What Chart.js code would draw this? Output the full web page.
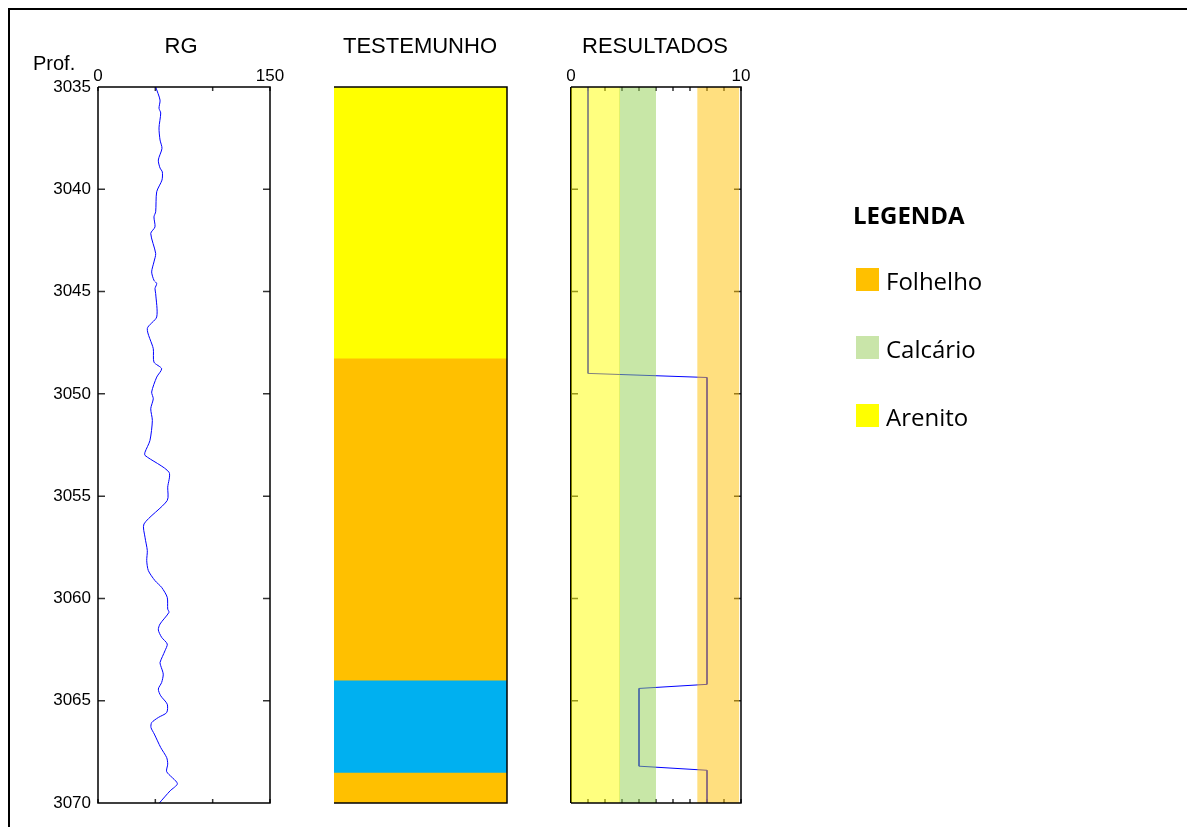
<!DOCTYPE html>
<html>
<head>
    <title>Perfil RG / Testemunho / Resultados</title>
    <script src="https://cdn.jsdelivr.net/npm/chart.js"></script>
    <style>
        body {
            margin: 0;
            width: 1187px;
            height: 827px;
            overflow: hidden;
            background: #fff;
            position: relative;
            font-family: "Liberation Sans", Arial, sans-serif;
        }
        .frame {
            position: absolute;
            left: 8px;
            top: 8px;
            width: 1200px;
            height: 900px;
            border: 2px solid #000;
        }
        canvas {
            position: absolute;
            left: 0;
            top: 0;
        }
        .title {
            position: absolute;
            top: 35px;
            font-size: 22px;
            line-height: 22px;
            text-align: center;
            color: #000;
        }
        .leg {
            position: absolute;
            font-family: "Open Sans", Lato, sans-serif;
            font-size: 24px;
            line-height: 24px;
            color: #000;
        }
        .sq {
            position: absolute;
            left: 856px;
            width: 23px;
            height: 23px;
        }
    </style>
</head>
<body>
    <div class="frame"></div>
    <canvas id="rg" width="1187" height="827"></canvas>
    <canvas id="core" width="1187" height="827"></canvas>
    <canvas id="res" width="1187" height="827"></canvas>

    <div class="title" style="left:131px;width:100px;">RG</div>
    <div class="title" style="left:320px;width:200px;">TESTEMUNHO</div>
    <div class="title" style="left:555px;width:200px;">RESULTADOS</div>
    <div class="title" style="left:33px;top:53px;font-size:20px;line-height:20px;text-align:left;">Prof.</div>

    <div class="leg" style="left:853px;top:203px;font-size:24px;line-height:23px;font-weight:bold;">LEGENDA</div>
    <div class="sq" style="top:268px;background:#FFC000;"></div>
    <div class="leg" style="left:886px;top:269px;">Folhelho</div>
    <div class="sq" style="top:336px;background:#C9E5A9;"></div>
    <div class="leg" style="left:886px;top:337px;">Calcário</div>
    <div class="sq" style="top:404px;background:#FFFF00;"></div>
    <div class="leg" style="left:886px;top:405px;">Arenito</div>

    <script>
        // profundidade (m)
        const depthMin = 3035;
        const depthMax = 3070;
        const depthTicks = [3035, 3040, 3045, 3050, 3055, 3060, 3065, 3070];

        // perfil de raios gama
        const rgDepth = [3035.0, 3035.64, 3036.04, 3036.27, 3037.0, 3037.59, 3038.0, 3038.57, 3038.96, 3039.15,
            3039.55, 3040.12, 3041.1, 3041.35, 3041.84, 3042.16, 3043.14, 3043.55, 3044.04, 3044.45,
            3044.61, 3044.85, 3045.1, 3046.24, 3046.81, 3047.79, 3048.45, 3048.77, 3049.18, 3049.91,
            3050.24, 3050.73, 3051.3, 3052.28, 3052.85, 3053.01, 3053.83, 3054.56, 3055.21, 3056.36,
            3057.01, 3057.66, 3058.15, 3058.64, 3059.13, 3059.46, 3059.95, 3060.52, 3060.68, 3061.25,
            3061.54, 3061.9, 3062.23, 3062.56, 3063.13, 3063.29, 3063.7, 3064.11, 3064.43, 3064.76,
            3065.17, 3065.58, 3065.82, 3066.07, 3066.31, 3066.63, 3067.29, 3067.78, 3068.1, 3068.47,
            3069.05, 3069.41, 3070.0];
        const rgValue = [50.3, 54.1, 53.2, 54.7, 53.2, 54.1, 55.8, 52.6, 54.1, 56.1,
            55.8, 51.2, 50.3, 48.8, 49.7, 46.0, 50.3, 48.8, 46.8, 48.8,
            51.2, 49.7, 50.3, 51.2, 43.0, 48.2, 48.8, 55.5, 51.2, 46.8,
            48.2, 46.0, 47.4, 45.3, 41.0, 41.0, 61.9, 60.8, 60.4, 40.1,
            41.0, 43.0, 42.5, 43.9, 49.7, 55.5, 60.4, 60.8, 61.9, 54.1,
            52.6, 55.5, 60.4, 58.4, 54.1, 54.7, 56.9, 55.5, 52.6, 54.7,
            60.4, 59.9, 52.6, 46.8, 46.2, 49.1, 54.7, 59.9, 60.8, 59.9,
            69.2, 62.8, 53.5];
        const rgTicks = [0, 50, 100, 150];

        // testemunho: topo e base de cada camada
        const coreTop = [3035, 3048.25, 3064.0, 3068.5];
        const coreBase = [3048.25, 3064.0, 3068.5, 3070];

        // resultados
        const resDepth = [3035, 3049.0, 3049.2, 3064.2, 3064.4, 3068.2, 3068.4, 3070];
        const resValue = [1, 1, 8, 8, 4, 4, 8, 8];
        const resTicks = [0, 1, 2, 3, 4, 5, 6, 7, 8, 9, 10];
        const bandFrom = [-0.15, 2.85, 7.45];
        const bandTo = [2.85, 4.98, 9.87];

        const coreColors = ['#FFFF00', '#FFC000', '#00B0F0', '#FFC000'];
        const bandColors = ['rgba(255,255,0,0.5)', 'rgba(146,208,80,0.5)', 'rgba(255,192,0,0.5)'];

        Chart.defaults.font.family = '"Liberation Sans", Arial, sans-serif';
        Chart.defaults.color = '#000';

        // moldura e tracinhos internos
        const logFrame = {
            id: 'logFrame',
            beforeDatasetsDraw(chart, args, o) {
                const ctx = chart.ctx, a = chart.chartArea;
                const xs = chart.scales.x, ys = chart.scales.y;
                ctx.save();
                ctx.strokeStyle = '#333';
                ctx.lineWidth = 1.5;
                ctx.beginPath();
                (o.yTicks || []).forEach(v => {
                    const py = ys.getPixelForValue(v);
                    ctx.moveTo(a.left, py); ctx.lineTo(a.left + 7, py);
                    ctx.moveTo(a.right, py); ctx.lineTo(a.right - 7, py);
                });
                (o.xTicks || []).forEach(v => {
                    const px = xs.getPixelForValue(v);
                    ctx.moveTo(px, a.top); ctx.lineTo(px, a.top + 4);
                    ctx.moveTo(px, a.bottom); ctx.lineTo(px, a.bottom - 4);
                });
                ctx.stroke();
                if (o.leftUnder) {
                    ctx.strokeStyle = '#000';
                    ctx.lineWidth = 2;
                    ctx.beginPath();
                    ctx.moveTo(a.left, a.top); ctx.lineTo(a.left, a.bottom);
                    ctx.stroke();
                }
                ctx.restore();
            },
            afterDatasetsDraw(chart, args, o) {
                const ctx = chart.ctx, a = chart.chartArea;
                ctx.save();
                ctx.strokeStyle = '#000';
                ctx.lineWidth = 1.5;
                ctx.beginPath();
                ctx.moveTo(a.left, a.top); ctx.lineTo(a.right, a.top);
                ctx.lineTo(a.right, a.bottom); ctx.lineTo(a.left, a.bottom);
                if (!o.leftUnder && !o.noLeft) ctx.lineTo(a.left, a.top);
                ctx.stroke();
                ctx.restore();
            }
        };

        const depthAxis = {
            type: 'linear',
            reverse: true,
            min: depthMin,
            max: depthMax,
            offset: false,
            grid: { display: false, drawTicks: false },
            border: { display: false }
        };

        const topAxis = (max) => ({
            type: 'linear',
            position: 'top',
            min: 0,
            max: max,
            offset: false,
            grid: { display: false, drawTicks: false, offset: false },
            border: { display: false },
            afterFit: s => { s.height = 30; },
            afterBuildTicks: s => { s.ticks = [0, max].map(v => ({ value: v })); },
            ticks: { font: { size: 17 }, padding: 0, maxRotation: 0, callback: v => String(v) }
        });

        // RG
        new Chart(document.getElementById('rg'), {
            type: 'scatter',
            data: {
                datasets: [{
                    data: rgDepth.map((d, i) => ({ x: rgValue[i], y: d })),
                    showLine: true,
                    borderColor: '#0000FF',
                    borderWidth: 1,
                    tension: 0.25,
                    pointRadius: 0
                }]
            },
            options: {
                responsive: false,
                animation: false,
                devicePixelRatio: 1,
                layout: { padding: { left: 0, top: 57, right: 1187 - 270, bottom: 24 } },
                plugins: {
                    legend: { display: false },
                    tooltip: { enabled: false },
                    logFrame: { yTicks: depthTicks.slice(1, -1), xTicks: rgTicks }
                },
                scales: {
                    x: topAxis(150),
                    y: Object.assign({}, depthAxis, {
                        afterFit: s => { s.width = 98; },
                        afterBuildTicks: s => { s.ticks = depthTicks.map(v => ({ value: v })); },
                        ticks: { font: { size: 17 }, padding: 7, callback: v => String(v) }
                    })
                }
            },
            plugins: [logFrame]
        });

        // TESTEMUNHO
        new Chart(document.getElementById('core'), {
            type: 'bar',
            data: {
                labels: ['T'],
                datasets: coreTop.map((t, i) => ({
                    data: [[t, coreBase[i]]],
                    backgroundColor: coreColors[i],
                    grouped: false,
                    barPercentage: 1,
                    categoryPercentage: 1,
                    borderWidth: 0
                }))
            },
            options: {
                responsive: false,
                animation: false,
                devicePixelRatio: 1,
                layout: { padding: { left: 334, top: 87, right: 1187 - 507, bottom: 24 } },
                plugins: {
                    legend: { display: false },
                    tooltip: { enabled: false },
                    logFrame: { yTicks: depthTicks.slice(1, -1), noLeft: true }
                },
                scales: {
                    x: { display: false },
                    y: Object.assign({}, depthAxis, { display: false })
                }
            },
            plugins: [logFrame]
        });

        // RESULTADOS
        new Chart(document.getElementById('res'), {
            type: 'bar',
            data: {
                labels: ['R'],
                datasets: bandFrom.map((f, i) => ({
                    data: [[f, bandTo[i]]],
                    indexAxis: 'y',
                    xAxisID: 'x',
                    yAxisID: 'yc',
                    backgroundColor: bandColors[i],
                    grouped: false,
                    barPercentage: 1,
                    categoryPercentage: 1,
                    borderWidth: 0,
                    order: 0
                })).concat([{
                    type: 'line',
                    data: resDepth.map((d, i) => ({ x: resValue[i], y: d })),
                    xAxisID: 'x',
                    yAxisID: 'y',
                    borderColor: '#0000FF',
                    borderWidth: 1,
                    pointRadius: 0,
                    fill: false,
                    order: 1
                }])
            },
            options: {
                responsive: false,
                animation: false,
                devicePixelRatio: 1,
                layout: { padding: { left: 571, top: 57, right: 1187 - 741, bottom: 24 } },
                plugins: {
                    legend: { display: false },
                    tooltip: { enabled: false },
                    logFrame: { yTicks: depthTicks.slice(1, -1), xTicks: resTicks, leftUnder: true }
                },
                scales: {
                    x: topAxis(10),
                    y: Object.assign({}, depthAxis, { display: false }),
                    yc: { type: 'category', axis: 'y', display: false, offset: true }
                }
            },
            plugins: [logFrame]
        });
    </script>
</body>
</html>
